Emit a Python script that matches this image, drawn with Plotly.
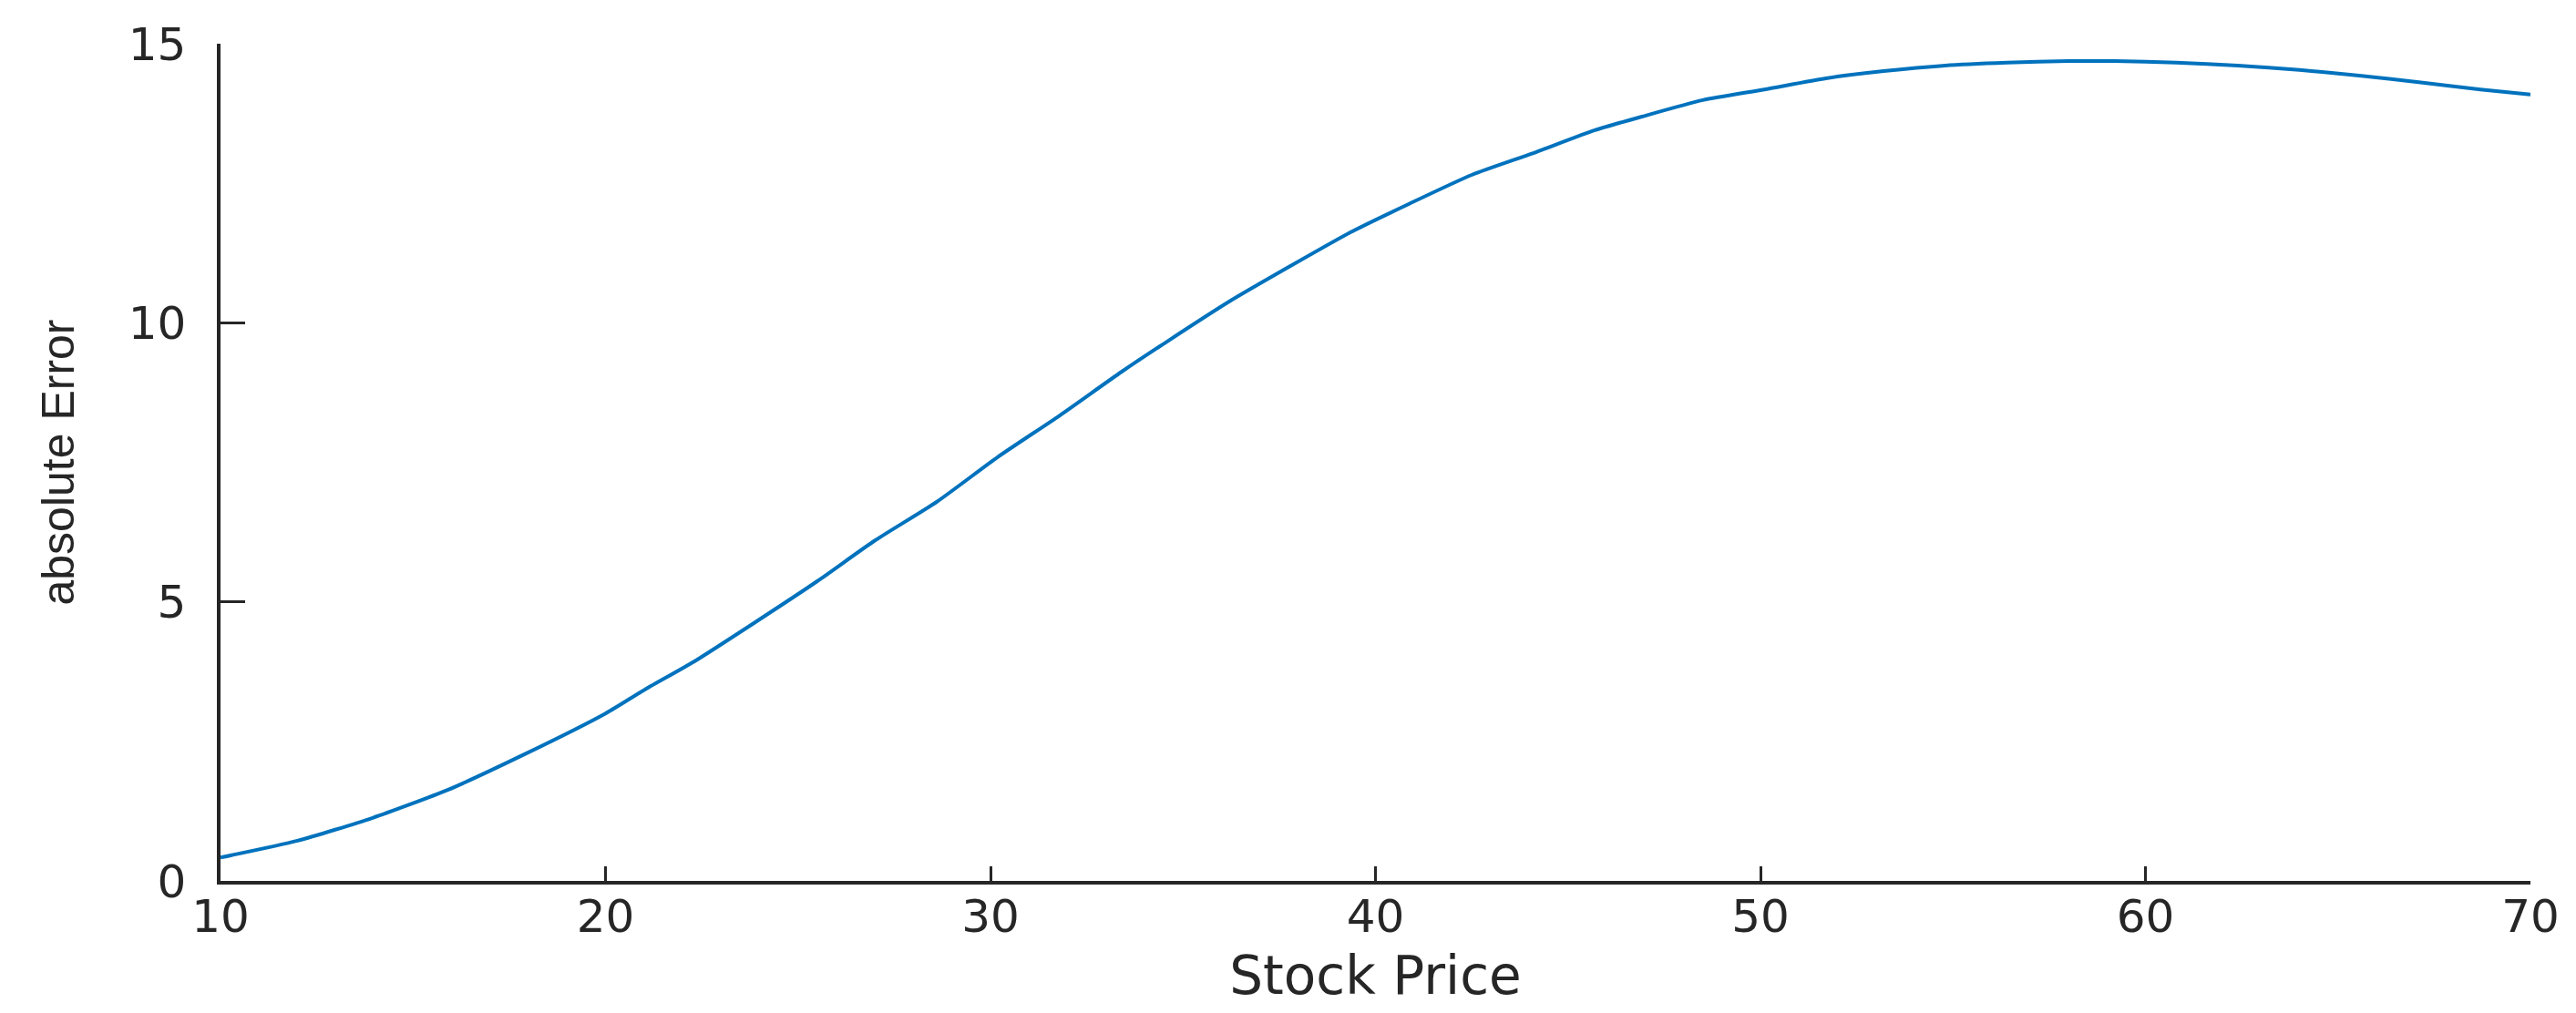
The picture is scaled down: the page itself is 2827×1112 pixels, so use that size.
import plotly.graph_objects as go

# valeurs
stock_price = [10.0, 12.0, 13.95, 15.9, 17.9, 20.0, 21.05, 22.3, 23.9, 25.5,
               27.0, 28.6, 30.2, 31.8, 33.4, 34.6, 36.2, 37.8, 39.35, 40.9,
               42.5, 44.1, 45.7, 46.9, 48.5, 50.1, 51.7, 53.2, 54.8, 56.4,
               58.0, 59.2, 60.8, 62.4, 64.0, 65.55, 67.1, 68.7, 70.0]
abs_error = [0.42, 0.72, 1.13, 1.63, 2.27, 3.00, 3.44, 3.93, 4.64, 5.37,
             6.10, 6.79, 7.60, 8.34, 9.12, 9.67, 10.38, 11.02, 11.62, 12.14,
             12.65, 13.04, 13.45, 13.69, 13.99, 14.18, 14.38, 14.51, 14.61, 14.66,
             14.69, 14.69, 14.66, 14.61, 14.53, 14.43, 14.31, 14.18, 14.09]

x_ticks = [10, 20, 30, 40, 50, 60, 70]
y_ticks = [0, 5, 10, 15]

AXE = "#262626"
FONTE = "DejaVu Sans"

fig = go.Figure(go.Scatter(
    x=stock_price, y=abs_error, mode="lines",
    line=dict(color="#0072BD", width=4, shape="spline", smoothing=0.6),
    showlegend=False,
))

fig.update_xaxes(
    range=[10, 70], tickvals=x_ticks,
    showline=True, linecolor=AXE, linewidth=3.5,
    ticks="inside", ticklen=16, tickwidth=3, tickcolor=AXE,
    showgrid=False, zeroline=False, automargin=False,
    tickfont=dict(family=FONTE, size=50, color=AXE), ticklabelstandoff=-8,
    title=dict(text="Stock Price", standoff=18,
               font=dict(family=FONTE, size=58, color=AXE)),
)
fig.update_yaxes(
    range=[0, 15], tickvals=y_ticks,
    showline=True, linecolor=AXE, linewidth=3.5,
    ticks="inside", ticklen=27, tickwidth=3, tickcolor=AXE,
    showgrid=False, zeroline=False, automargin=False,
    tickfont=dict(family=FONTE, size=50, color=AXE), ticklabelstandoff=24,
    title=dict(text="absolute Error", standoff=44,
               font=dict(family="Liberation Sans", size=50, color=AXE)),
)

fig.update_layout(
    width=2827, height=1112,
    margin=dict(l=234, r=58, t=40, b=153),
    plot_bgcolor="white", paper_bgcolor="white",
)

fig.write_html("out.html")
